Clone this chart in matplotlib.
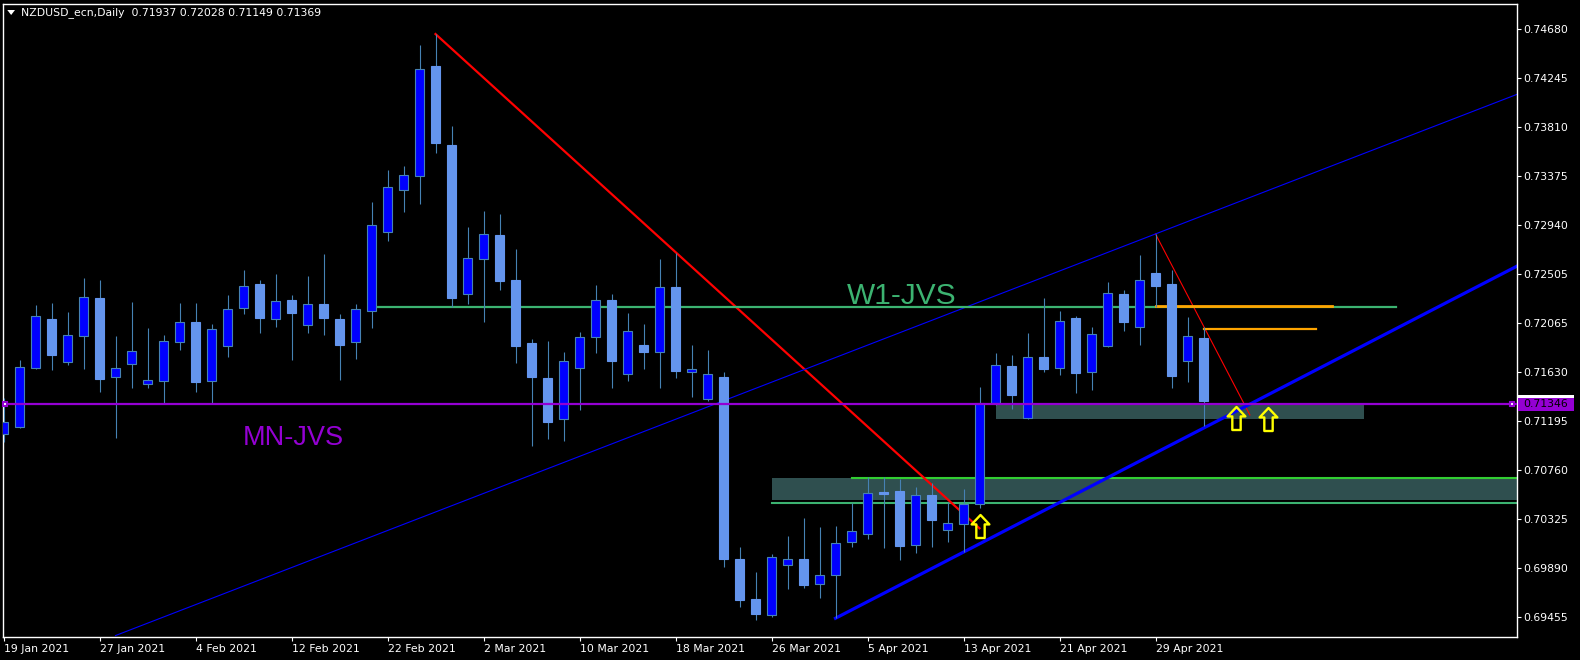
import numpy as np
import matplotlib
matplotlib.use('Agg')
import matplotlib.pyplot as plt
from matplotlib.patches import Rectangle, Polygon
from matplotlib.path import Path
import matplotlib.transforms as mtransforms

symbol = 'NZDUSD_ecn,Daily'

# daily OHLC, bar 0 = 19 Jan 2021
opens = [0.71077, 0.71145, 0.71669, 0.72103, 0.71723, 0.71954, 0.72289, 0.71584, 0.71700, 0.71522,
         0.71554, 0.71901, 0.72076, 0.71554, 0.71860, 0.72198, 0.72414, 0.72105, 0.72272, 0.72047,
         0.72236, 0.72103, 0.71895, 0.72171, 0.72874, 0.73247, 0.73372, 0.74353, 0.73650, 0.72322,
         0.72639, 0.72850, 0.72449, 0.71889, 0.71578, 0.71210, 0.71669, 0.71940, 0.72272, 0.71611,
         0.71871, 0.71806, 0.72387, 0.71628, 0.71388, 0.71587, 0.69968, 0.69612, 0.69473, 0.69912,
         0.69968, 0.69743, 0.69823, 0.70117, 0.70188, 0.70561, 0.70573, 0.70090, 0.70537, 0.70223,
         0.70277, 0.70454, 0.71358, 0.71685, 0.71219, 0.71765, 0.71664, 0.72111, 0.71628, 0.71860,
         0.72325, 0.72029, 0.72512, 0.72414, 0.71726, 0.71937]
highs = [0.71397, 0.71738, 0.72227, 0.72245, 0.72165, 0.72467, 0.72449, 0.71951, 0.72254, 0.72022,
         0.71960, 0.72245, 0.72245, 0.72058, 0.72316, 0.72538, 0.72449, 0.72503, 0.72316, 0.72485,
         0.72681, 0.72147, 0.72236, 0.73143, 0.73428, 0.73463, 0.74540, 0.74637, 0.73819, 0.72921,
         0.73063, 0.73036, 0.72725, 0.71925, 0.71907, 0.71809, 0.71987, 0.72405, 0.72325, 0.72156,
         0.72058, 0.72636, 0.72692, 0.71871, 0.71827, 0.71631, 0.70075, 0.69852, 0.70010, 0.70172,
         0.70333, 0.70253, 0.70262, 0.70463, 0.70695, 0.70695, 0.70682, 0.70608, 0.70641, 0.70475,
         0.70591, 0.71498, 0.71797, 0.71782, 0.71975, 0.72289, 0.72174, 0.72129, 0.72031, 0.72432,
         0.72360, 0.72672, 0.72859, 0.72538, 0.72120, 0.72028]
lows = [0.71011, 0.71133, 0.71658, 0.71649, 0.71693, 0.71658, 0.71453, 0.71047, 0.71492, 0.71492,
        0.71358, 0.71829, 0.71453, 0.71358, 0.71767, 0.72150, 0.71981, 0.72034, 0.71738, 0.71981,
        0.71963, 0.71560, 0.71747, 0.72025, 0.72799, 0.73057, 0.73128, 0.73582, 0.72212, 0.72239,
        0.72079, 0.72363, 0.71714, 0.70976, 0.71038, 0.71020, 0.71296, 0.71803, 0.71492, 0.71554,
        0.71660, 0.71492, 0.71580, 0.71412, 0.71376, 0.69894, 0.69544, 0.69425, 0.69455, 0.69701,
        0.69713, 0.69624, 0.69441, 0.70077, 0.70148, 0.70069, 0.69959, 0.70024, 0.70077, 0.70122,
        0.70028, 0.70419, 0.71338, 0.71305, 0.71210, 0.71634, 0.71607, 0.71447, 0.71474, 0.71856,
        0.71999, 0.71874, 0.72209, 0.71492, 0.71545, 0.71149]
closes = [0.71184, 0.71673, 0.72127, 0.71785, 0.71958, 0.72296, 0.71572, 0.71664, 0.71815, 0.71557,
          0.71904, 0.72073, 0.71545, 0.72011, 0.72189, 0.72393, 0.72114, 0.72260, 0.72156, 0.72233,
          0.72114, 0.71874, 0.72189, 0.72936, 0.73274, 0.73381, 0.74323, 0.73671, 0.72292, 0.72642,
          0.72856, 0.72443, 0.71865, 0.71589, 0.71189, 0.71726, 0.71940, 0.72269, 0.71732, 0.71993,
          0.71812, 0.72384, 0.71643, 0.71655, 0.71611, 0.69965, 0.69606, 0.69479, 0.69983, 0.69965,
          0.69739, 0.69823, 0.70108, 0.70214, 0.70552, 0.70549, 0.70086, 0.70534, 0.70318, 0.70286,
          0.70454, 0.71353, 0.71691, 0.71429, 0.71762, 0.71660, 0.72085, 0.71625, 0.71966, 0.72334,
          0.72079, 0.72447, 0.72399, 0.71598, 0.71949, 0.71369]

date_labels = ['19 Jan 2021', '27 Jan 2021', '4 Feb 2021', '12 Feb 2021', '22 Feb 2021',
               '2 Mar 2021', '10 Mar 2021', '18 Mar 2021', '26 Mar 2021', '5 Apr 2021',
               '13 Apr 2021', '21 Apr 2021', '29 Apr 2021']
date_bars = [0, 6, 12, 18, 24, 30, 36, 42, 48, 54, 60, 66, 72]
price_ticks = [0.74680, 0.74245, 0.73810, 0.73375, 0.72940, 0.72505, 0.72065,
               0.71630, 0.71195, 0.70760, 0.70325, 0.69890, 0.69455]

# drawn objects (bar index, price)
mn_level = 0.71346
w1_level = 0.72212
w1_bars = [23.3, 87]
red_x, red_y = [27, 61], [0.74637, 0.70241]
red2_x, red2_y = [72, 77.9], [0.72859, 0.71249]
chan_x, chan_y = [7, 72], [0.69287, 0.72859]
trend_x, trend_y = [52, 75], [0.69441, 0.71132]
zone1 = [48, 0.70493, 0.70691]
zone1_top_from = 53
zone1_low_line = 0.70466
zone2 = [62, 85, 0.71213, 0.71346]
orange1 = [72, 83, 0.72218]
orange2 = [75, 82, 0.72016]
arrow_x = [61, 77, 79]
arrow_y = [0.70257, 0.71219, 0.71209]

W, H = 1580, 660
fig = plt.figure(figsize=(W / 100, H / 100), dpi=100, facecolor='black')
px_l, px_r, px_t, px_b = 2.5, 1516.7, 4, 637
ax = fig.add_axes([px_l / W, 1 - px_b / H, (px_r - px_l) / W, (px_b - px_t) / H])
ax.set_facecolor('black')
ax.set_xlim(-0.0625, 94.575)
ax.set_ylim(0.692742, 0.749041)
k = (0.749041 - 0.692742) / (px_b - px_t)  # price per pixel

o, h, l, c = map(np.array, (opens, highs, lows, closes))
x = np.arange(len(o))
bull = c >= o

purple = '#9400D3'
ax.add_patch(Rectangle((zone1[0], zone1[1]), 60, zone1[2] - zone1[1], fc='#2F4F4F', ec='none', zorder=1))
ax.add_patch(Rectangle((zone2[0], zone2[2]), zone2[1] - zone2[0], zone2[3] - zone2[2],
                       fc='#2F4F4F', ec='none', zorder=1))
ax.plot([zone1_top_from, 110], [zone1[2], zone1[2]], color='#32CD32', lw=1.5, zorder=2)
ax.plot([zone1[0], 110], [zone1_low_line, zone1_low_line], color='#3CB371', lw=1.5, zorder=2)

ax.plot(red_x, red_y, color='#FF0000', lw=1.6, zorder=2)
ax.plot(red2_x, red2_y, color='#FF0000', lw=0.8, zorder=2)

def ray(xs, ys, end=110):
    s = (ys[1] - ys[0]) / (xs[1] - xs[0])
    return [xs[0], end], [ys[0], ys[0] + s * (end - xs[0])]

rx, ry = ray(chan_x, chan_y)
ax.plot(rx, ry, color='#0000FF', lw=0.8, zorder=2)
rx, ry = ray(trend_x, trend_y)
ax.plot(rx, ry, color='#0000FF', lw=2.3, zorder=2)

ax.plot(w1_bars, [w1_level, w1_level], color='#3CB371', lw=1.6, zorder=2)
ax.plot(orange1[:2], [orange1[2]] * 2, color='#FFA500', lw=2.0, zorder=2.5)
ax.plot(orange2[:2], [orange2[2]] * 2, color='#FFA500', lw=1.6, zorder=2.5)

# candles
ax.vlines(x, l, h, color='#4682B4', lw=0.8, zorder=3)
ax.bar(x[bull], (c - o)[bull], bottom=o[bull], width=0.6, color='#0000FF',
       edgecolor='#4682B4', linewidth=0.8, zorder=4)
ax.bar(x[~bull], (o - c)[~bull], bottom=c[~bull], width=0.6, color='#6495ED',
       edgecolor='#6495ED', linewidth=0.8, zorder=4)

ax.axhline(mn_level, color=purple, lw=1.6, zorder=5)
ax.plot([0.1, 94.3], [mn_level, mn_level], ls='none', marker='s', ms=3, mfc='white',
        mec=purple, mew=1.5, zorder=7, clip_on=False)

verts = [(0, 11), (8.5, 2), (4, 2), (4, -11), (-4, -11), (-4, 2), (-8.5, 2), (0, 11)]
arrow = Path(verts, [Path.MOVETO] + [Path.LINETO] * 6 + [Path.CLOSEPOLY])
ax.plot(arrow_x, arrow_y, ls='none', marker=arrow, ms=23 * 0.72, mfc='none',
        mec='#FFFF00', mew=1.7, zorder=6)

ax.text(52.7, 0.72235, 'W1-JVS', color='#3CB371', fontsize=21.5, family='Liberation Sans',
        va='baseline', zorder=6)
ax.text(14.97, 0.70982, 'MN-JVS', color=purple, fontsize=19.5, family='Liberation Sans',
        va='baseline', zorder=6)

# axes styling
for sp in ax.spines.values():
    sp.set_color('white')
    sp.set_linewidth(1)
ax.yaxis.tick_right()
ax.set_yticks(price_ticks)
ax.set_yticklabels([f'{p:.5f}' for p in price_ticks])
ax.set_xticks(date_bars)
ax.set_xticklabels(date_labels, ha='left')
ax.tick_params(axis='y', colors='white', length=3, width=0.8, pad=1.5, labelsize=7.8)
ax.tick_params(axis='x', colors='white', length=3, width=0.8, pad=2, labelsize=7.8)

# price labels on the right scale
trans = mtransforms.blended_transform_factory(ax.transAxes, ax.transData)
aw = px_r - px_l
bx0 = (1518 - px_l) / aw
bw = (1574 - 1518) / aw
ax.add_patch(Rectangle((bx0, c[-1] - 6.5 * k), bw, 13 * k, transform=trans, fc='white',
                       ec='none', clip_on=False, zorder=8))
ax.add_patch(Rectangle((bx0, mn_level - 6.5 * k), bw, 13 * k, transform=trans, fc=purple,
                       ec='none', clip_on=False, zorder=9))
ax.text((1523 - px_l) / aw, mn_level, f'{mn_level:.5f}', transform=trans, color='black',
        fontsize=7.8, va='center', clip_on=False, zorder=10)

# header
fig.text(21 / W, 1 - 13 / H, f'{symbol}  {o[-1]:.5f} {h[-1]:.5f} {l[-1]:.5f} {c[-1]:.5f}',
         color='white', fontsize=7.8, va='center')
tri = [(7.3 / W, 1 - 10 / H), (15 / W, 1 - 10 / H), (11.15 / W, 1 - 15 / H)]
fig.patches.append(Polygon(tri, closed=True, fc='white', ec='none', transform=fig.transFigure))

fig.savefig('out.png', dpi=100, facecolor='black')
